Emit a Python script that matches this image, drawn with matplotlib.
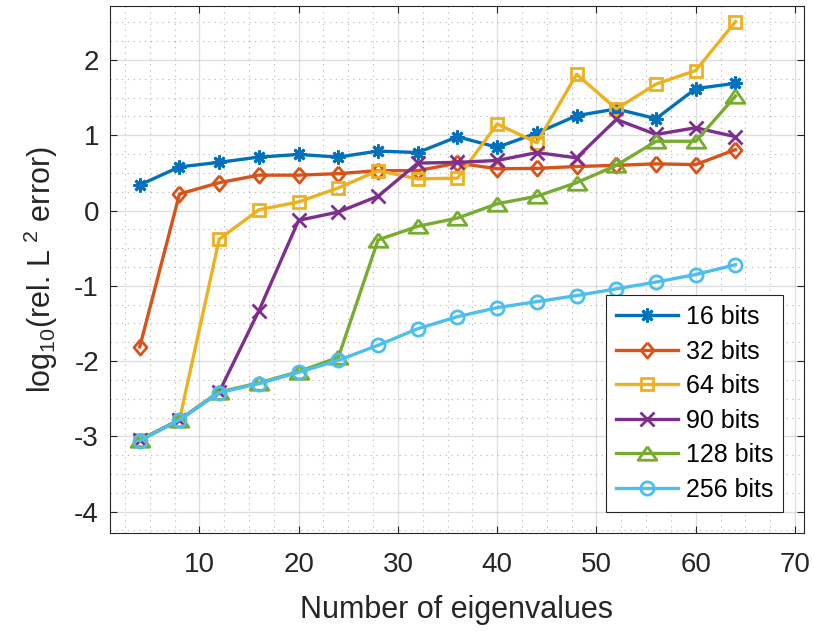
import matplotlib
matplotlib.use("Agg")
import matplotlib.pyplot as plt
from matplotlib.ticker import MultipleLocator
import numpy as np

plt.rcParams['font.family'] = ['Liberation Sans', 'DejaVu Sans']
plt.rcParams['mathtext.default'] = 'regular'
plt.rcParams['axes.unicode_minus'] = False

# Number of eigenvalues used
n_eig = [4, 8, 12, 16, 20, 24, 28, 32, 36, 40, 44, 48, 52, 56, 60, 64]

# log10 of relative L2 error for each precision
err_16 = [0.34, 0.58, 0.64, 0.71, 0.745, 0.71, 0.79, 0.77, 0.98, 0.84, 1.03, 1.26, 1.35, 1.22, 1.62, 1.69]
err_32 = [-1.81, 0.22, 0.37, 0.47, 0.47, 0.49, 0.53, 0.53, 0.63, 0.555, 0.56, 0.585, 0.60, 0.62, 0.61, 0.81]
err_64 = [-3.05, -2.78, -0.38, 0.01, 0.115, 0.30, 0.53, 0.42, 0.43, 1.15, 0.90, 1.81, 1.35, 1.68, 1.86, 2.51]
err_90 = [-3.05, -2.78, -2.41, -1.33, -0.13, -0.02, 0.19, 0.63, 0.64, 0.665, 0.77, 0.70, 1.21, 1.01, 1.10, 0.98]
err_128 = [-3.05, -2.78, -2.41, -2.29, -2.14, -1.95, -0.39, -0.21, -0.10, 0.09, 0.19, 0.37, 0.60, 0.92, 0.92, 1.52]
err_256 = [-3.06, -2.78, -2.42, -2.30, -2.15, -1.99, -1.79, -1.57, -1.41, -1.29, -1.21, -1.13, -1.04, -0.95, -0.85, -0.72]

labels = ['16 bits', '32 bits', '64 bits', '90 bits', '128 bits', '256 bits']
colors = ['#0072BD', '#D95319', '#EDB120', '#7E2F8E', '#77AC30', '#4DBEEE']

# wide, flat triangle like MATLAB's '^'
tri = [(0, 0.72), (-1, -0.72), (1, -0.72), (0, 0.72)]
# diamond slightly taller than wide
dia = [(0, 1), (-0.85, 0), (0, -1), (0.85, 0), (0, 1)]
markers = [(8, 2, 0), dia, 's', 'x', tri, 'o']
msizes = [10, 11, 8.5, 9.5, 13.5, 9.5]

series = [err_16, err_32, err_64, err_90, err_128, err_256]

fig = plt.figure(figsize=(8.14, 6.31), dpi=100)
ax = fig.add_axes([110 / 814, 1 - 533 / 631, 694 / 814, 527 / 631])

for y, lab, c, m, ms in zip(series, labels, colors, markers, msizes):
    ax.plot(n_eig, y, color=c, lw=2.4, marker=m, ms=ms, mew=2.0,
            mfc='none', mec=c, label=lab)

ax.set_xlim(1, 70.9)
ax.set_ylim(-4.284, 2.717)
ax.set_xticks([10, 20, 30, 40, 50, 60, 70])
ax.set_yticks([-4, -3, -2, -1, 0, 1, 2])
ax.xaxis.set_minor_locator(MultipleLocator(2.5))
ax.yaxis.set_minor_locator(MultipleLocator(0.25))

ax.set_axisbelow(True)
ax.grid(which='major', color='#262626', alpha=0.15, lw=0.9)
ax.grid(which='minor', color='#262626', alpha=0.3, lw=0.8, ls=(0, (1.2, 4)))

ax.tick_params(which='major', direction='in', length=5, width=0.8,
               top=True, right=True, labelsize=20, colors='#262626', pad=8)
ax.tick_params(axis='x', which='major', pad=14)
ax.tick_params(which='minor', length=0)
for s in ax.spines.values():
    s.set_color('#262626')
    s.set_linewidth(0.8)

ax.set_xlabel('Number of eigenvalues', fontsize=22, color='#262626', labelpad=12)
ax.set_ylabel('log$_{10}$(rel. L$^{\\ 2}$ error)', fontsize=22, color='#262626', labelpad=10)

leg = ax.legend(loc='lower right', bbox_to_anchor=(0.970, 0.0404), borderaxespad=0,
                fontsize=18, handlelength=2.5, handletextpad=0.3,
                labelspacing=0.42, borderpad=0.4, fancybox=False, framealpha=1,
                edgecolor='#262626')
leg.get_frame().set_linewidth(0.8)

fig.savefig('out.png', dpi=100)
